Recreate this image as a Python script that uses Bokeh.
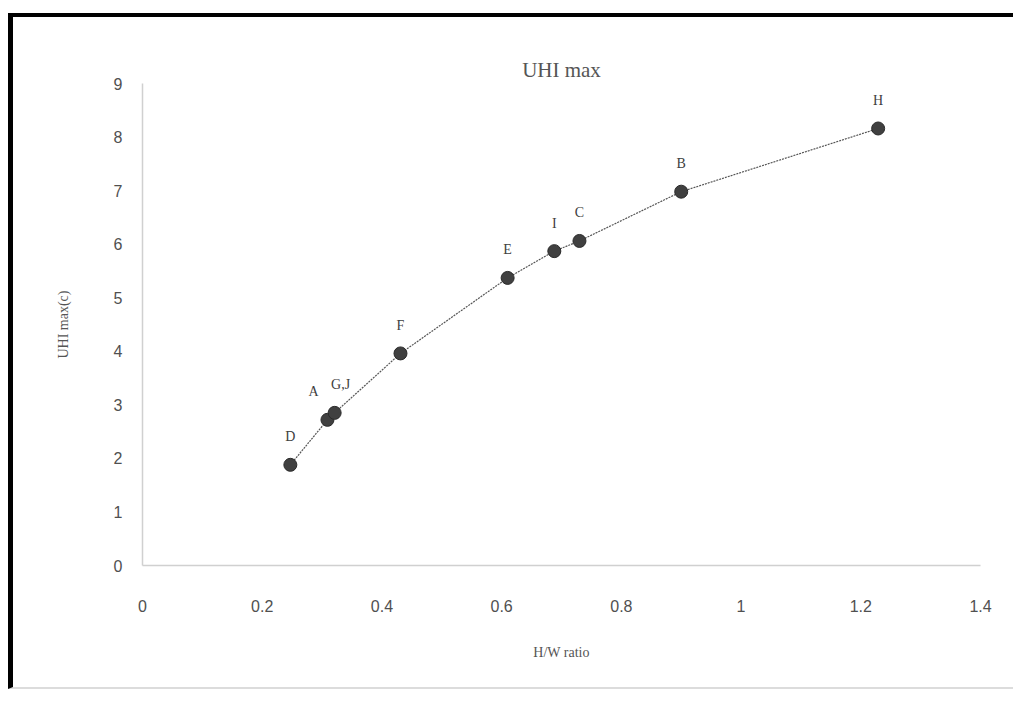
from bokeh.plotting import figure
from bokeh.models import ColumnDataSource, Range1d, FixedTicker, Title
from bokeh.core.properties import value
from bokeh.embed import file_html
from bokeh.resources import INLINE

# Data
site = ["D", "A", "G,J", "F", "E", "I", "C", "B", "H"]
hw_ratio = [0.247, 0.309, 0.321, 0.431, 0.610, 0.688, 0.730, 0.900, 1.229]
uhi_max = [1.88, 2.72, 2.85, 3.96, 5.37, 5.87, 6.06, 6.98, 8.16]
x_ticks = [0, 0.2, 0.4, 0.6, 0.8, 1.0, 1.2, 1.4]
x_tick_labels = ["0", "0.2", "0.4", "0.6", "0.8", "1", "1.2", "1.4"]
y_ticks = [0, 1, 2, 3, 4, 5, 6, 7, 8, 9]

# label horizontal nudges (style only)
label_dx = [0, -14, 6, 0, 0, 0, 0, 0, 0]

src = ColumnDataSource(dict(x=hw_ratio, y=uhi_max, t=site, dx=label_dx))

p = figure(width=1005, height=676, output_backend="svg", toolbar_location=None,
           x_range=Range1d(0, 1.4), y_range=Range1d(0, 9),
           min_border_left=129, min_border_right=38,
           min_border_top=66, min_border_bottom=128)

p.styles = {"margin-top": "13px",
            "margin-left": "8px",
            "border-top": "4px solid #000000",
            "border-left": "5px solid #000000",
            "border-bottom": "2px solid #dcdcdc"}

p.outline_line_color = None
p.background_fill_color = "white"
p.border_fill_color = "white"
p.xgrid.grid_line_color = None
p.ygrid.grid_line_color = None

t = Title(text="UHI max", align="center", text_font="Liberation Serif",
          text_font_size="21px", text_font_style="normal", text_color="#555555",
          standoff=4)
p.add_layout(t, "above")

for ax in (p.xaxis[0], p.yaxis[0]):
    ax.major_tick_line_color = None
    ax.minor_tick_line_color = None
    ax.axis_line_color = "#d0d0d0"
    ax.axis_line_width = 1.5
    ax.major_label_text_font = "Liberation Sans Narrow, Liberation Sans"
    ax.major_label_text_font_size = "16px"
    ax.major_label_text_color = "#505050"
    ax.axis_label_text_font = "Liberation Serif"
    ax.axis_label_text_font_size = "14px"
    ax.axis_label_text_font_style = "normal"
    ax.axis_label_text_color = "#555555"

p.xaxis.ticker = FixedTicker(ticks=x_ticks)
p.xaxis.major_label_overrides = {tk: lb for tk, lb in zip(x_ticks, x_tick_labels)}
p.xaxis.major_label_standoff = 28
p.xaxis.axis_label = "H/W ratio"
p.xaxis.axis_label_standoff = 30

p.yaxis.ticker = FixedTicker(ticks=y_ticks)
p.yaxis.major_label_standoff = 14
p.yaxis.axis_label = "UHI max(c)"
p.yaxis.axis_label_standoff = 40

p.line("x", "y", source=src, line_color="#555555", line_width=1.2, line_dash="2 1")
p.scatter("x", "y", source=src, size=13, fill_color="#404040", line_color="#2a2a2a")
p.text("x", "y", text="t", source=src, x_offset="dx", y_offset=-28,
       text_align="center", text_baseline="middle",
       text_font=value("Liberation Serif"), text_font_size="14px", text_color="#404040")

open("out.html", "w").write(file_html(p, INLINE))
